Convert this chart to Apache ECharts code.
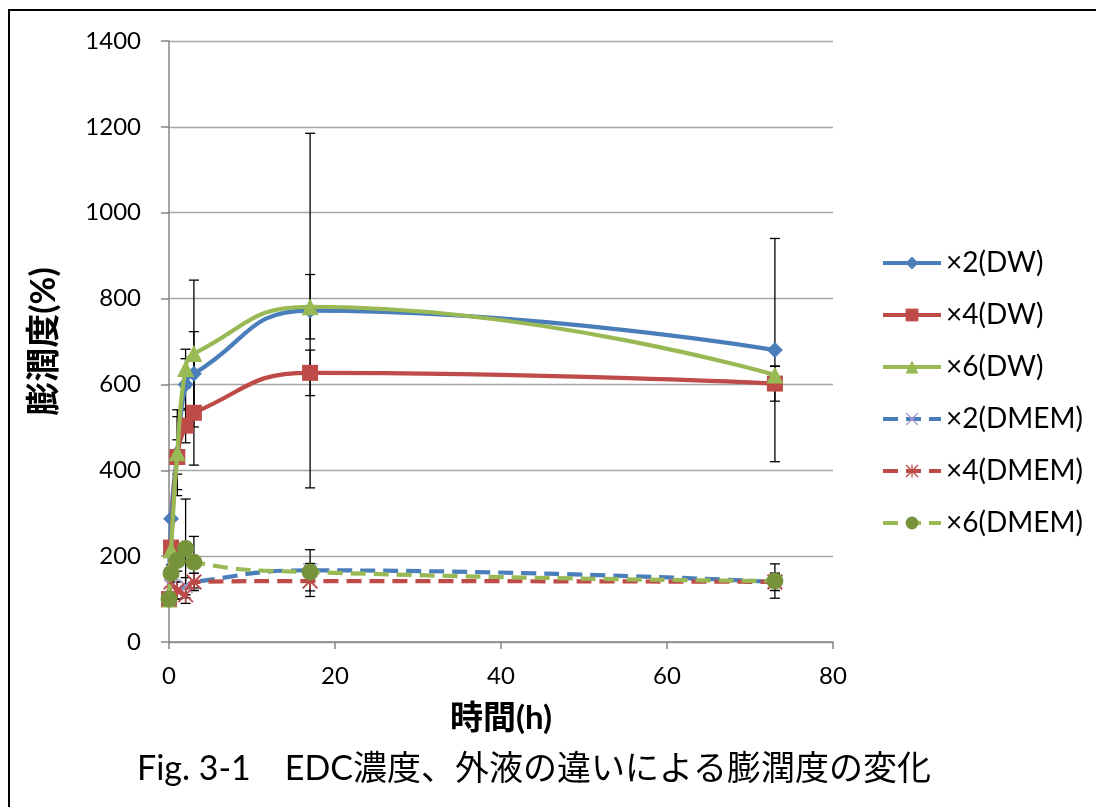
<!DOCTYPE html>
<html>
<head>
<meta charset="utf-8">
<script src="https://cdn.jsdelivr.net/npm/echarts@6/dist/echarts.min.js"></script>
<style>
html,body{margin:0;padding:0;background:#fff;}
#c{width:1096px;height:807px;}
</style>
</head>
<body>
<div id="c"></div>
<script>
// ---- data ----
const times = [0, 0.25, 1, 2, 3, 17, 73];
const seriesNames = ['×2(DW)', '×4(DW)', '×6(DW)', '×2(DMEM)', '×4(DMEM)', '×6(DMEM)'];
const dw2   = [100, 287, 440, 600, 625, 772, 680];
const dw4   = [100, 220, 431, 504, 534, 627, 602];
const dw6   = [100, 215, 441, 637, 672, 781, 622];
const dmem2 = [100, 130, 120, 130, 140, 167, 140];
const dmem4 = [100, 140, 120, 110, 140, 142, 140];
const dmem6 = [100, 160, 190, 218, 186, 163, 142];
// error bar half widths
const errDw2   = [0, 0, 85, 60, 98, 413, 260];
const errDw4   = [0, 0, 40, 40, 122, 53, 41];
const errDw6   = [0, 0, 100, 45, 171, 75, 20];
const errDmem2 = [0, 0, 20, 20, 20, 48, 20];
const errDmem4 = [0, 0, 20, 20, 20, 36, 20];
const errDmem6 = [0, 20, 25, 115, 60, 20, 40];
const yTicks = [0, 200, 400, 600, 800, 1000, 1200, 1400];
const xTicks = [0, 20, 40, 60, 80];

const values = [dw2, dw4, dw6, dmem2, dmem4, dmem6];
const errs = [errDw2, errDw4, errDw6, errDmem2, errDmem4, errDmem6];

const X_PATH = 'path://M0,0.8L0.8,0L5,4.2L9.2,0L10,0.8L5.8,5L10,9.2L9.2,10L5,5.8L0.8,10L0,9.2L4.2,5Z';
const STAR_PATH = 'path://M0,0.8L0.8,0L5,4.2L9.2,0L10,0.8L5.8,5L10,9.2L9.2,10L5,5.8L0.8,10L0,9.2L4.2,5ZM4.5,0L5.5,0L5.5,10L4.5,10Z';

const styles = [
  {color:'#4A7EBB', mcolor:'#4A7EBB', symbol:'diamond', size:16, dash:'solid'},
  {color:'#BE4B48', mcolor:'#BE4B48', symbol:'rect', size:16, dash:'solid'},
  {color:'#98B954', mcolor:'#98B954', symbol:'triangle', size:17, dash:'solid'},
  {color:'#4A7EBB', mcolor:'#A99BCB', symbol:X_PATH, size:15, dash:[15,8]},
  {color:'#BE4B48', mcolor:'#BE4B48', symbol:STAR_PATH, size:16, dash:[15,8]},
  {color:'#98B954', mcolor:'#76933C', symbol:'circle', size:17, dash:[15,8]}
];

const errData = [];
values.forEach((vals, s) => {
  vals.forEach((v, i) => {
    if (errs[s][i] > 0) errData.push([times[i], v - errs[s][i], v + errs[s][i]]);
  });
});

const latin = 'Lato, "Noto Sans CJK JP", sans-serif';

const series = [{
  type: 'custom',
  name: 'err',
  z: 1,
  silent: true,
  data: errData,
  encode: {x: 0, y: [1, 2]},
  renderItem: function (params, api) {
    const x = api.value(0);
    const lo = api.coord([x, api.value(1)]);
    const hi = api.coord([x, api.value(2)]);
    const w = 5;
    const st = {stroke: '#000', lineWidth: 1.3};
    return {type: 'group', children: [
      {type: 'line', shape: {x1: lo[0], y1: lo[1], x2: hi[0], y2: hi[1]}, style: st},
      {type: 'line', shape: {x1: lo[0] - w, y1: lo[1], x2: lo[0] + w, y2: lo[1]}, style: st},
      {type: 'line', shape: {x1: hi[0] - w, y1: hi[1], x2: hi[0] + w, y2: hi[1]}, style: st}
    ]};
  }
}];

values.forEach((vals, s) => {
  const st = styles[s];
  series.push({
    type: 'line',
    name: seriesNames[s],
    z: 3 + s,
    data: vals.map((v, i) => [times[i], v]),
    smooth: 0.5,
    symbol: st.symbol,
    symbolSize: st.size,
    showAllSymbol: true,
    lineStyle: {color: st.color, width: 4.2, type: st.dash},
    itemStyle: {color: st.mcolor, borderWidth: 0},
    emphasis: {disabled: true}
  });
});

const chart = echarts.init(document.getElementById('c'), null, {renderer: 'canvas'});
chart.setOption({
  animation: false,
  backgroundColor: '#fff',
  grid: {left: 169, right: 263, top: 41, bottom: 165, containLabel: false},
  xAxis: {
    type: 'value', min: xTicks[0], max: xTicks[xTicks.length - 1], interval: 20,
    name: '時間(h)', nameLocation: 'middle', nameGap: 60,
    nameTextStyle: {fontFamily: latin, fontSize: 33, fontWeight: 'bold', color: '#000'},
    axisLine: {show: true, lineStyle: {color: '#868686', width: 1.5}},
    axisTick: {show: true, length: 7, lineStyle: {color: '#868686', width: 1.5}},
    axisLabel: {fontFamily: latin, fontSize: 24, color: '#000', margin: 22, formatter: v => String(v)},
    splitLine: {show: false}
  },
  yAxis: {
    type: 'value', min: yTicks[0], max: yTicks[yTicks.length - 1], interval: 200,
    name: '膨潤度(%)', nameLocation: 'middle', nameGap: 108, nameRotate: 90,
    nameTextStyle: {fontFamily: latin, fontSize: 34, fontWeight: 'bold', color: '#000'},
    axisLine: {show: true, lineStyle: {color: '#868686', width: 1.5}},
    axisTick: {show: true, length: 8, lineStyle: {color: '#868686', width: 1.5}},
    axisLabel: {fontFamily: latin, fontSize: 24, color: '#000', margin: 28, formatter: v => String(v)},
    splitLine: {show: true, lineStyle: {color: '#A6A6A6', width: 1.3}}
  },
  legend: {
    show: true, orient: 'vertical', left: 876, top: 244,
    data: seriesNames,
    itemWidth: 58, itemHeight: 16, itemGap: 24,
    lineStyle: {width: 4},
    textStyle: {fontFamily: latin, fontSize: 28, color: '#000', lineHeight: 28},
    selectedMode: false
  },
  graphic: [
    {type: 'polyline', shape: {points: [[9, 807], [9, 10], [1096, 10]]}, style: {stroke: '#000', lineWidth: 2, fill: null}},
    {type: 'text', left: 137, top: 752, style: {text: 'Fig. 3-1　EDC濃度、外液の違いによる膨潤度の変化', font: '34px Lato, "Noto Sans CJK JP", sans-serif', fill: '#000'}}
  ],
  series: series
});
</script>
</body>
</html>
